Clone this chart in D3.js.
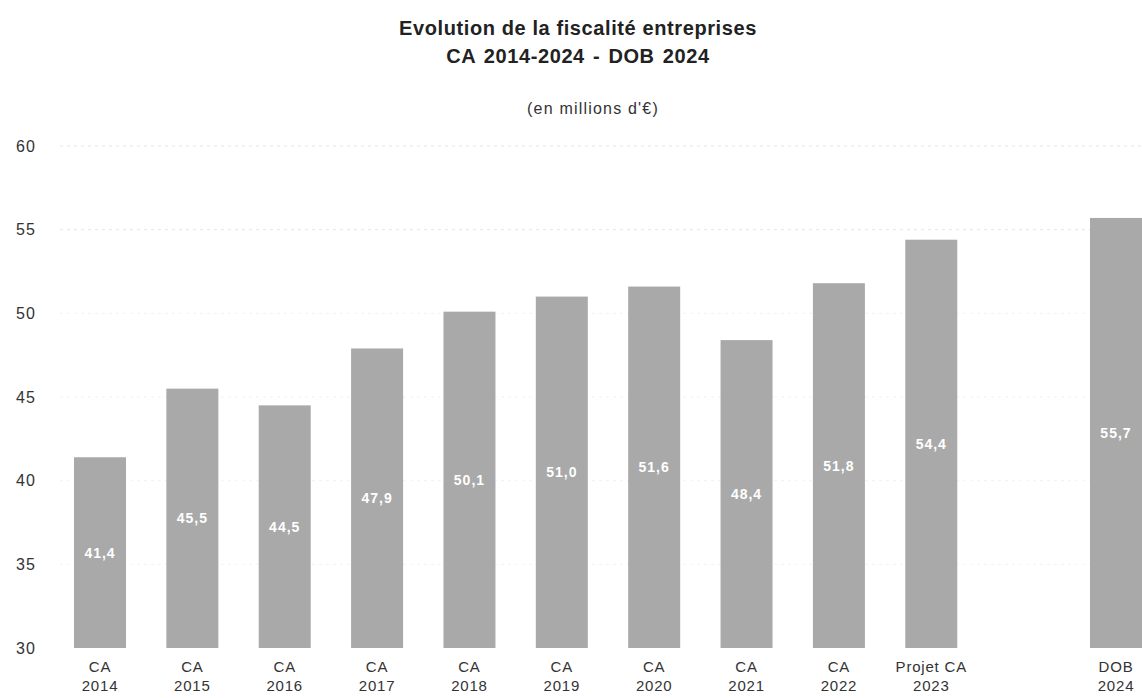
<!DOCTYPE html>
<html>
<head>
<meta charset="utf-8">
<script src="https://cdn.jsdelivr.net/npm/d3@7"></script>
<style>
  body { margin: 0; background: #fff; }
  svg { display: block; font-family: "Liberation Sans", Arial, sans-serif; }
</style>
</head>
<body>
<svg id="chart" width="1142" height="698"></svg>
<script>
// data
var categories = ["CA 2014", "CA 2015", "CA 2016", "CA 2017", "CA 2018", "CA 2019",
                  "CA 2020", "CA 2021", "CA 2022", "Projet CA 2023", "gap", "DOB 2024"]
var labelTop = ["CA", "CA", "CA", "CA", "CA", "CA", "CA", "CA", "CA", "Projet CA", "", "DOB"]
var labelBottom = ["2014", "2015", "2016", "2017", "2018", "2019", "2020", "2021", "2022", "2023", "", "2024"]
var values = [41.4, 45.5, 44.5, 47.9, 50.1, 51.0, 51.6, 48.4, 51.8, 54.4, null, 55.7]
var yTicks = [30, 35, 40, 45, 50, 55, 60]

var width = 1142, height = 698

var svg = d3.select('#chart')

var x = d3.scaleBand()
    .domain(categories)
    .range([74, 1142])
    .paddingInner(0.437)
    .paddingOuter(0)

var y = d3.scaleLinear()
    .domain([30, 60])
    .range([648, 146])

var fmt = function(v) { return d3.format('.1f')(v).replace('.', ',') }

// titles
svg.append('text')
    .attr('x', 578).attr('y', 35)
    .attr('text-anchor', 'middle')
    .style('font-size', '20px').style('font-weight', 'bold').style('fill', '#222')
    .style('letter-spacing', '0.6px')
    .text('Evolution de la fiscalité entreprises')
svg.append('text')
    .attr('x', 578).attr('y', 63)
    .attr('text-anchor', 'middle')
    .style('font-size', '20px').style('font-weight', 'bold').style('fill', '#222')
    .style('letter-spacing', '0.6px').style('word-spacing', '2px')
    .text('CA 2014-2024 - DOB 2024')
svg.append('text')
    .attr('x', 593).attr('y', 114)
    .attr('text-anchor', 'middle')
    .style('font-size', '16px').style('fill', '#333')
    .style('letter-spacing', '1.2px')
    .text("(en millions d'€)")

// faint grid lines
svg.append('g')
    .selectAll('line')
    .data(yTicks.filter(function(d) { return d > 30 }))
    .join('line')
    .attr('x1', 60).attr('x2', width)
    .attr('y1', function(d) { return y(d) })
    .attr('y2', function(d) { return y(d) })
    .attr('stroke', function(d) { return d >= 55 ? '#e4e4e4' : '#f2f2f2' })
    .attr('stroke-dasharray', '3,4')

// y axis labels
svg.append('g')
    .selectAll('text')
    .data(yTicks)
    .join('text')
    .attr('x', 16)
    .attr('y', function(d) { return y(d) })
    .attr('dy', '0.35em')
    .style('font-size', '16px').style('fill', '#333')
    .style('letter-spacing', '1px')
    .text(function(d) { return d })

var bars = categories.map(function(c, i) {
    return { cat: c, v: values[i], top: labelTop[i], bottom: labelBottom[i] }
})

// bars
svg.append('g')
    .selectAll('rect')
    .data(bars.filter(function(d) { return d.v != null }))
    .join('rect')
    .attr('x', function(d) { return x(d.cat) })
    .attr('width', x.bandwidth())
    .attr('y', function(d) { return y(d.v) })
    .attr('height', function(d) { return y(30) - y(d.v) })
    .attr('fill', '#a9a9a9')

// value labels in the middle of the bars
svg.append('g')
    .selectAll('text')
    .data(bars.filter(function(d) { return d.v != null }))
    .join('text')
    .attr('x', function(d) { return x(d.cat) + x.bandwidth() / 2 })
    .attr('y', function(d) { return (y(d.v) + y(30)) / 2 })
    .attr('dy', '0.35em')
    .attr('text-anchor', 'middle')
    .style('font-size', '14px').style('font-weight', 'bold').style('fill', '#fff')
    .style('letter-spacing', '1px')
    .text(function(d) { return fmt(d.v) })

// category labels
var cl = svg.append('g')
    .selectAll('g')
    .data(bars)
    .join('g')
    .attr('transform', function(d) {
        return 'translate(' + (x(d.cat) + x.bandwidth() / 2) + ',0)'
    })
cl.append('text')
    .attr('y', 672)
    .attr('text-anchor', 'middle')
    .style('font-size', '15px').style('fill', '#333')
    .style('letter-spacing', '0.8px')
    .text(function(d) { return d.top })
cl.append('text')
    .attr('y', 691)
    .attr('text-anchor', 'middle')
    .style('font-size', '15px').style('fill', '#333')
    .style('letter-spacing', '0.8px')
    .text(function(d) { return d.bottom })
</script>
</body>
</html>
